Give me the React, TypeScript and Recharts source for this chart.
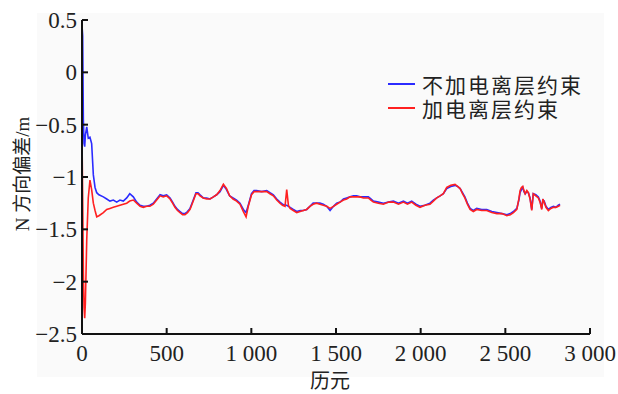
import { LineChart, Line, XAxis, YAxis, Legend, Label } from "recharts";

const epochs = [
  0, 4, 8, 12, 16, 20, 28, 37, 47, 57, 67, 77, 87, 100, 126, 146, 165, 185, 205, 224,
  244, 264, 282, 303, 323, 343, 362, 382, 401, 421, 441, 461, 480, 500, 520, 535, 549, 564, 579, 594,
  608, 623, 638, 657, 673, 685, 697, 716, 736, 756, 776, 795, 815, 835, 853, 872, 892, 913, 933, 953,
  969, 982, 1001, 1016, 1031, 1061, 1091, 1110, 1130, 1150, 1169, 1184, 1199, 1209, 1219, 1229, 1248, 1268, 1288, 1307,
  1327, 1346, 1365, 1385, 1405, 1425, 1445, 1465, 1485, 1504, 1524, 1544, 1563, 1583, 1603, 1622, 1642, 1662, 1691, 1706,
  1721, 1750, 1780, 1810, 1839, 1869, 1898, 1922, 1947, 1972, 1996, 2025, 2055, 2075, 2095, 2115, 2134, 2154, 2178, 2203,
  2218, 2233, 2247, 2261, 2276, 2292, 2311, 2331, 2360, 2390, 2420, 2450, 2480, 2509, 2529, 2548, 2568, 2580, 2587, 2595,
  2603, 2610, 2617, 2627, 2636, 2646, 2656, 2665, 2680, 2695, 2705, 2715, 2722, 2729, 2740, 2754, 2769, 2784, 2798, 2813,
  2823,
];

// 不加电离层约束
const noConstraint = [
  0.45, 0.35, -0.45, -0.68, -0.71, -0.6, -0.52, -0.63, -0.62, -0.68, -0.98, -1.1, -1.15, -1.17, -1.19, -1.21, -1.23, -1.22, -1.24, -1.22,
  -1.23, -1.2, -1.16, -1.19, -1.24, -1.27, -1.28, -1.28, -1.27, -1.25, -1.21, -1.17, -1.18, -1.17, -1.2, -1.24, -1.28, -1.31, -1.33, -1.35,
  -1.35, -1.33, -1.3, -1.22, -1.15, -1.15, -1.17, -1.2, -1.2, -1.21, -1.19, -1.17, -1.14, -1.08, -1.12, -1.18, -1.2, -1.22, -1.25, -1.31,
  -1.34, -1.27, -1.16, -1.13, -1.13, -1.14, -1.13, -1.15, -1.17, -1.21, -1.24, -1.26, -1.27, -1.27, -1.28, -1.29, -1.31, -1.33, -1.32, -1.32,
  -1.31, -1.28, -1.25, -1.25, -1.25, -1.26, -1.28, -1.32, -1.28, -1.25, -1.24, -1.21, -1.2, -1.19, -1.18, -1.18, -1.19, -1.19, -1.19, -1.21,
  -1.23, -1.24, -1.25, -1.24, -1.23, -1.25, -1.23, -1.25, -1.23, -1.26, -1.28, -1.27, -1.25, -1.22, -1.2, -1.18, -1.16, -1.11, -1.09, -1.08,
  -1.09, -1.11, -1.15, -1.19, -1.25, -1.3, -1.32, -1.3, -1.31, -1.31, -1.33, -1.34, -1.35, -1.36, -1.35, -1.33, -1.3, -1.22, -1.15, -1.12,
  -1.1, -1.14, -1.16, -1.14, -1.15, -1.2, -1.31, -1.16, -1.17, -1.19, -1.23, -1.3, -1.22, -1.23, -1.28, -1.31, -1.29, -1.28, -1.29, -1.27,
  -1.26,
];

// 加电离层约束
const withConstraint = [
  -0.62, -1.2, -1.9, -2.25, -2.35, -2.2, -1.6, -1.2, -1.03, -1.12, -1.25, -1.32, -1.38, -1.37, -1.34, -1.31, -1.3, -1.29, -1.28, -1.27,
  -1.26, -1.25, -1.23, -1.22, -1.25, -1.28, -1.29, -1.28, -1.28, -1.26, -1.22, -1.18, -1.19, -1.18, -1.21, -1.25, -1.29, -1.32, -1.34, -1.36,
  -1.36, -1.34, -1.31, -1.23, -1.16, -1.16, -1.18, -1.2, -1.21, -1.21, -1.19, -1.17, -1.13, -1.07, -1.11, -1.18, -1.21, -1.23, -1.26, -1.33,
  -1.38, -1.28, -1.17, -1.14, -1.14, -1.14, -1.14, -1.16, -1.18, -1.22, -1.25, -1.27, -1.28, -1.12, -1.27, -1.3, -1.32, -1.34, -1.33, -1.32,
  -1.31, -1.28, -1.26, -1.25, -1.26, -1.27, -1.28, -1.3, -1.28, -1.26, -1.24, -1.22, -1.21, -1.19, -1.19, -1.19, -1.19, -1.2, -1.2, -1.22,
  -1.24, -1.25, -1.26, -1.24, -1.24, -1.26, -1.24, -1.26, -1.24, -1.27, -1.29, -1.27, -1.26, -1.23, -1.2, -1.18, -1.16, -1.1, -1.08, -1.07,
  -1.09, -1.11, -1.16, -1.2, -1.26, -1.31, -1.33, -1.31, -1.32, -1.32, -1.34, -1.35, -1.35, -1.37, -1.36, -1.34, -1.31, -1.21, -1.13, -1.1,
  -1.09, -1.13, -1.16, -1.13, -1.15, -1.21, -1.32, -1.16, -1.18, -1.2, -1.24, -1.31, -1.21, -1.24, -1.29, -1.32, -1.3, -1.29, -1.29, -1.28,
  -1.27,
];

const seriesNames = ["不加电离层约束", "加电离层约束"];
const seriesColors = ["#2b2bff", "#ff2020"];

const xTicks = [0, 500, 1000, 1500, 2000, 2500, 3000];
const xTickLabels = ["0", "500", "1 000", "1 500", "2 000", "2 500", "3 000"];
const yTicks = [-2.5, -2, -1.5, -1, -0.5, 0, 0.5];
const yTickLabels = ["−2.5", "−2", "−1.5", "−1", "−0.5", "0", "0.5"];

const data = epochs.map((e, i) => ({
  epoch: e,
  a: noConstraint[i],
  b: withConstraint[i],
}));

const serif = "Liberation Serif";
const cjk = "Liberation Serif, Noto Sans CJK SC";

const XTick = (props: any) => {
  const { x, y, payload } = props;
  const idx = xTicks.indexOf(payload.value);
  return (
    <g>
      <line x1={x} y1={y} x2={x} y2={y - 6} stroke="#111" strokeWidth={2} />
      <text x={x} y={y + 27} textAnchor="middle" style={{ fontFamily: serif, fontSize: 23 }} fill="#222">
        {xTickLabels[idx]}
      </text>
    </g>
  );
};

const YTick = (props: any) => {
  const { x, y, payload } = props;
  const idx = yTicks.indexOf(payload.value);
  return (
    <g>
      <line x1={x} y1={y} x2={x + 6} y2={y} stroke="#111" strokeWidth={2} />
      <text x={x - 5} y={y + 8} textAnchor="end" style={{ fontFamily: serif, fontSize: 23 }} fill="#222">
        {yTickLabels[idx]}
      </text>
    </g>
  );
};

const LegendBox = () => (
  <div
    style={{
      fontFamily: "Noto Sans CJK SC, sans-serif",
      fontSize: 21,
      lineHeight: "24px",
      color: "#222",
      letterSpacing: 2,
    }}
  >
    {seriesNames.map((n, i) => (
      <div key={n} style={{ display: "flex", alignItems: "center", height: 24 }}>
        <svg width={34} height={24}>
          <line x1={0} y1={12} x2={27} y2={12} stroke={seriesColors[i]} strokeWidth={2} />
        </svg>
        <span>{n}</span>
      </div>
    ))}
  </div>
);

const App = () => {
  return (
    <div style={{ position: "absolute", left: 0, top: 0, width: 618, height: 394, background: "#fff" }}>
      <div style={{ position: "absolute", left: 37, top: 13, width: 567, height: 364, background: "#fafafa" }} />
      <div style={{ position: "absolute", left: 0, top: 0 }}>
        <LineChart width={618} height={394} data={data} margin={{ top: 20, right: 28, left: 22, bottom: 20 }}>
          <XAxis
            dataKey="epoch"
            type="number"
            domain={[0, 3000]}
            ticks={xTicks}
            height={40}
            tickSize={0}
            tickMargin={0}
            tickLine={false}
            axisLine={{ stroke: "#111", strokeWidth: 2 }}
            tick={(p: any) => <XTick {...p} />}
            interval={0}
          >
            <Label
              content={() => (
                <text
                  x={330}
                  y={388}
                  textAnchor="middle"
                  style={{ fontFamily: "Noto Sans CJK SC", fontSize: 20 }}
                  fill="#222"
                >
                  历元
                </text>
              )}
            />
          </XAxis>
          <YAxis
            type="number"
            domain={[-2.5, 0.5]}
            ticks={yTicks}
            width={60}
            tickSize={0}
            tickMargin={0}
            tickLine={false}
            axisLine={{ stroke: "#111", strokeWidth: 2 }}
            tick={(p: any) => <YTick {...p} />}
            interval={0}
            allowDataOverflow
          >
            <Label
              content={() => (
                <text
                  x={29}
                  y={174}
                  transform="rotate(-90, 29, 174)"
                  textAnchor="middle"
                  style={{ fontFamily: cjk, fontSize: 19 }}
                  fill="#222"
                >
                  N 方向偏差/m
                </text>
              )}
            />
          </YAxis>
          <Legend
            layout="horizontal"
            verticalAlign="middle"
            align="center"
            content={() => <LegendBox />}
            wrapperStyle={{ left: 388, top: 72, width: "auto" }}
          />
          <Line
            type="linear"
            dataKey="a"
            name={seriesNames[0]}
            stroke={seriesColors[0]}
            strokeWidth={1.6}
            dot={false}
            isAnimationActive={false}
          />
          <Line
            type="linear"
            dataKey="b"
            name={seriesNames[1]}
            stroke={seriesColors[1]}
            strokeWidth={1.6}
            dot={false}
            isAnimationActive={false}
          />
        </LineChart>
      </div>
    </div>
  );
};

export default App;
